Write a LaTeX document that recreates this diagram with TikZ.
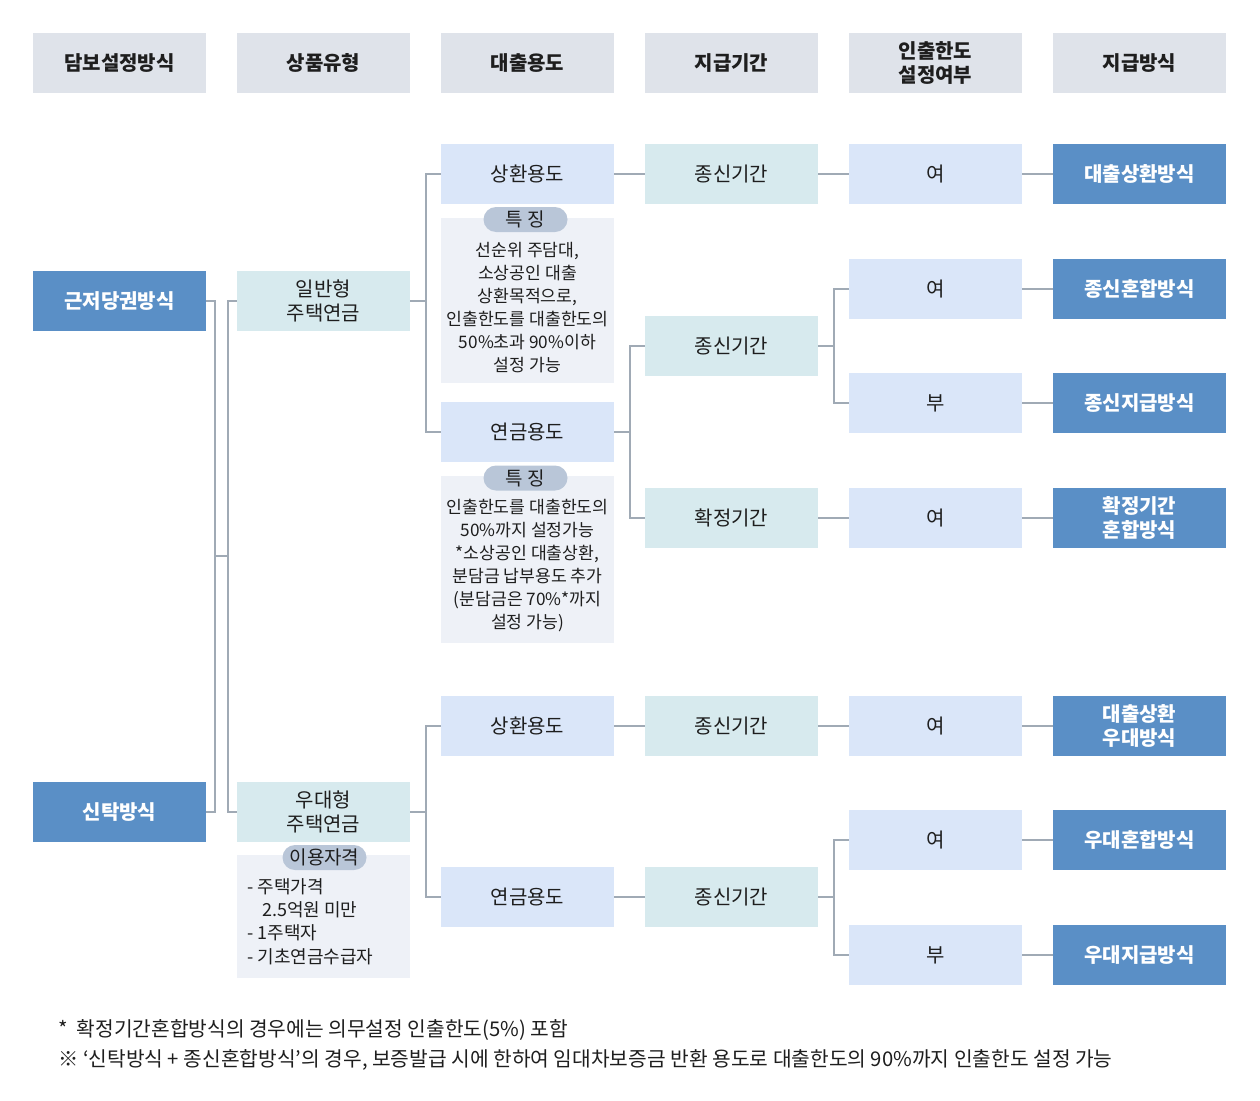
\documentclass[tikz,border=0pt]{standalone}
\usepackage{fontspec}
\setmainfont{Noto Sans CJK KR}
\definecolor{hdr}{HTML}{DFE3EA}
\definecolor{dblue}{HTML}{5A8FC6}
\definecolor{teal}{HTML}{D7EAEE}
\definecolor{lblue}{HTML}{DAE6F9}
\definecolor{feat}{HTML}{EEF1F7}
\definecolor{pill}{HTML}{B9C6D8}
\definecolor{conn}{HTML}{A0AAB5}
\definecolor{txt}{HTML}{1E1E1E}
\tikzset{
  box/.style={minimum width=173pt,minimum height=60pt,inner sep=0pt,align=center,text=txt,font=\fontsize{20}{24}\selectfont},
  hbox/.style={box,fill=hdr,font=\fontsize{20}{24}\selectfont\bfseries},
  bbox/.style={box,fill=dblue,text=white,font=\fontsize{20}{24}\selectfont\bfseries},
  tbox/.style={box,fill=teal},
  lbox/.style={box,fill=lblue},
  fbox/.style={minimum width=173pt,inner sep=0pt,fill=feat},
  pillbox/.style={fill=pill,rounded corners=12.5pt,minimum width=84pt,minimum height=25pt,inner sep=0pt,text=txt,font=\fontsize{19}{20}\selectfont},
  ftext/.style={align=center,text=txt,inner sep=0pt,font=\fontsize{17.2}{23}\selectfont},
  link/.style={draw=conn,line width=1.2pt}
}
\begin{document}
\begin{tikzpicture}[x=1pt,y=-1pt]
\useasboundingbox (0,0) rectangle (1260,1100);
% headers
\node[hbox] (h1) at (119.5,63) {담보설정방식};
\node[hbox] (h2) at (323.5,63) {상품유형};
\node[hbox] (h3) at (527.5,63) {대출용도};
\node[hbox] (h4) at (731.5,63) {지급기간};
\node[hbox] (h5) at (935.5,63) {인출한도\\설정여부};
\node[hbox] (h6) at (1139.5,63) {지급방식};
% column 1
\node[bbox] (gj) at (119.5,301) {근저당권방식};
\node[bbox] (sin) at (119.5,812) {신탁방식};
% column 2
\node[tbox] (ilb) at (323.5,301) {일반형\\주택연금};
\node[tbox] (udh) at (323.5,812) {우대형\\주택연금};
\node[fbox,minimum height=123pt] (qbox) at (323.5,916.5) {};
\node[pillbox] (qpill) at (324.5,857.5) {이용자격};
\node[ftext,align=left,anchor=north west,font=\fontsize{18}{23.3}\selectfont] (qtext) at (247,878) {- 주택가격\\\hspace*{15pt}2.5억원 미만\\- 1주택자\\- 기초연금수급자};
% column 3
\node[lbox] (sh1) at (527.5,174) {상환용도};
\node[fbox,minimum height=165pt] (f1) at (527.5,300.5) {};
\node[pillbox] (p1) at (525.5,219.5) {특 징};
\node[ftext] (f1t) at (527.5,308) {선순위 주담대,\\소상공인 대출\\상환목적으로,\\인출한도를 대출한도의\\50\%초과 90\%이하\\설정 가능};
\node[lbox] (yg1) at (527.5,432) {연금용도};
\node[fbox,minimum height=167pt] (f2) at (527.5,559.5) {};
\node[pillbox] (p2) at (525.5,478) {특 징};
\node[ftext] (f2t) at (527.5,566) {인출한도를 대출한도의\\50\%까지 설정가능\\*소상공인 대출상환,\\분담금 납부용도 추가\\(분담금은 70\%*까지\\설정 가능)};
\node[lbox] (sh2) at (527.5,726) {상환용도};
\node[lbox] (yg2) at (527.5,897) {연금용도};
% column 4
\node[tbox] (js1) at (731.5,174) {종신기간};
\node[tbox] (js2) at (731.5,346) {종신기간};
\node[tbox] (hj) at (731.5,518) {확정기간};
\node[tbox] (js3) at (731.5,726) {종신기간};
\node[tbox] (js4) at (731.5,897) {종신기간};
% column 5
\node[lbox] (y1) at (935.5,174) {여};
\node[lbox] (y2) at (935.5,289) {여};
\node[lbox] (b2) at (935.5,403) {부};
\node[lbox] (y3) at (935.5,518) {여};
\node[lbox] (y4) at (935.5,726) {여};
\node[lbox] (y5) at (935.5,840) {여};
\node[lbox] (b5) at (935.5,955) {부};
% column 6
\node[bbox] (m1) at (1139.5,174) {대출상환방식};
\node[bbox] (m2) at (1139.5,289) {종신혼합방식};
\node[bbox] (m3) at (1139.5,403) {종신지급방식};
\node[bbox] (m4) at (1139.5,518) {확정기간\\혼합방식};
\node[bbox] (m5) at (1139.5,726) {대출상환\\우대방식};
\node[bbox] (m6) at (1139.5,840) {우대혼합방식};
\node[bbox] (m7) at (1139.5,955) {우대지급방식};
% junctions
\coordinate (ja) at (215,556);
\coordinate (jb) at (228,556);
\coordinate (jc) at (426,301);
\coordinate (jd) at (630,432);
\coordinate (je) at (834,346);
\coordinate (jf) at (426,812);
\coordinate (jg) at (834,897);
% connectors
\draw[link] (gj.east) -| (ja) |- (sin.east);
\draw[link] (ja) -- (jb);
\draw[link] (ilb.west) -| (jb) |- (udh.west);
\draw[link] (ilb.east) -- (jc);
\draw[link] (sh1.west) -| (jc) |- (yg1.west);
\draw[link] (udh.east) -- (jf);
\draw[link] (sh2.west) -| (jf) |- (yg2.west);
\draw[link] (sh1.east) -- (js1.west);
\draw[link] (yg1.east) -- (jd);
\draw[link] (js2.west) -| (jd) |- (hj.west);
\draw[link] (sh2.east) -- (js3.west);
\draw[link] (yg2.east) -- (js4.west);
\draw[link] (js1.east) -- (y1.west);
\draw[link] (js2.east) -- (je);
\draw[link] (y2.west) -| (je) |- (b2.west);
\draw[link] (hj.east) -- (y3.west);
\draw[link] (js3.east) -- (y4.west);
\draw[link] (js4.east) -- (jg);
\draw[link] (y5.west) -| (jg) |- (b5.west);
\draw[link] (y1.east) -- (m1.west);
\draw[link] (y2.east) -- (m2.west);
\draw[link] (b2.east) -- (m3.west);
\draw[link] (y3.east) -- (m4.west);
\draw[link] (y4.east) -- (m5.west);
\draw[link] (y5.east) -- (m6.west);
\draw[link] (b5.east) -- (m7.west);
% footnotes
\node[anchor=west,inner sep=0pt,text=txt,font=\fontsize{20.3}{22}\selectfont] (fn1) at (58,1030) {*\hspace{9pt}확정기간혼합방식의 경우에는 의무설정 인출한도(5\%) 포함};
\node[anchor=west,inner sep=0pt,text=txt,font=\fontsize{20.3}{22}\selectfont] (fn2) at (58,1060) {※ ‘신탁방식 + 종신혼합방식’의 경우, 보증발급 시에 한하여 임대차보증금 반환 용도로 대출한도의 90\%까지 인출한도 설정 가능};
\end{tikzpicture}
\end{document}
